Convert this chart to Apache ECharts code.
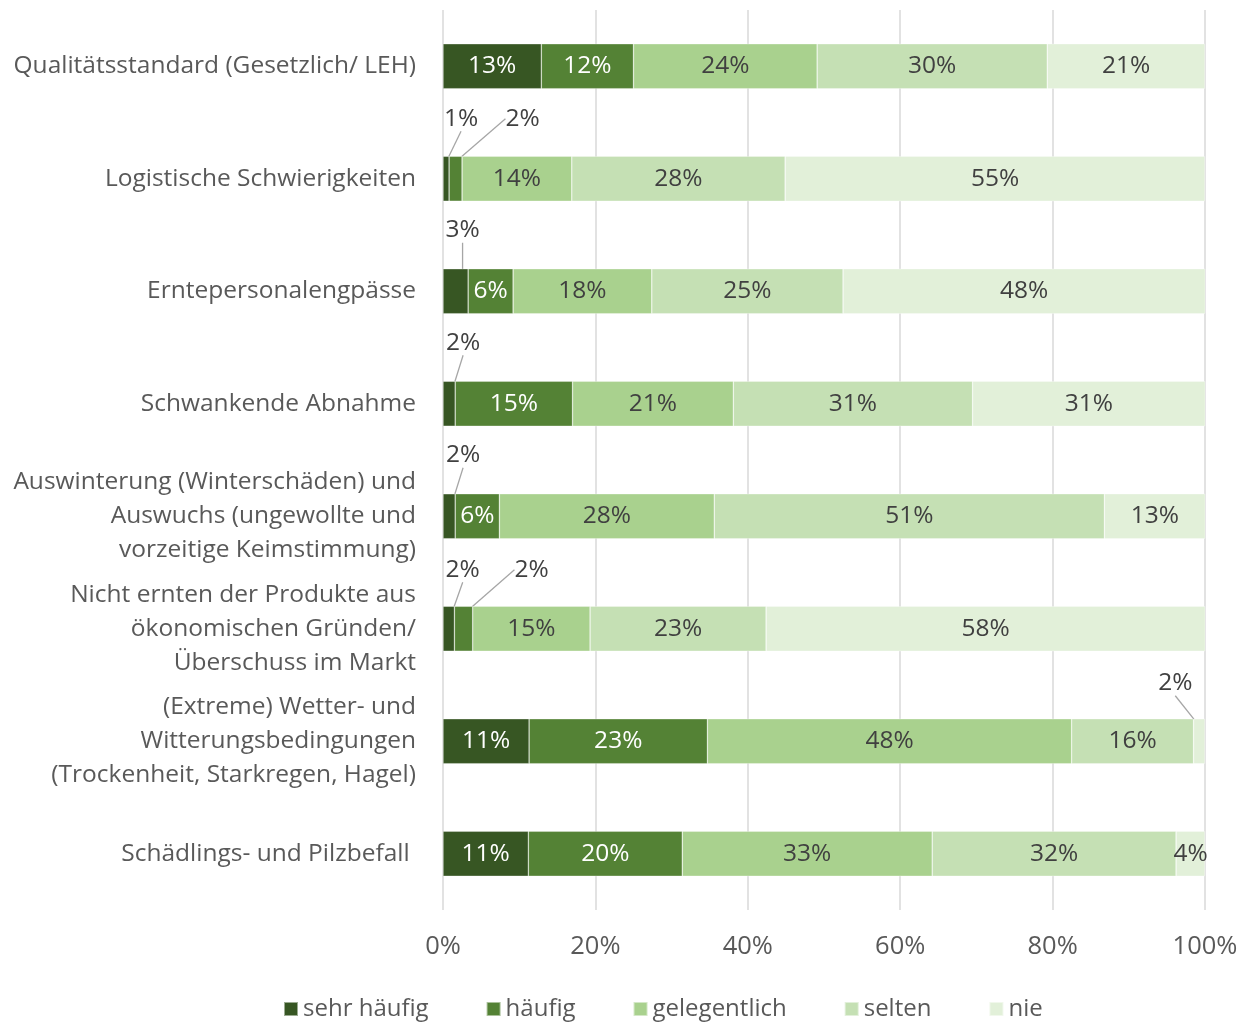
<!DOCTYPE html>
<html>
<head>
<meta charset="utf-8">
<script src="https://cdn.jsdelivr.net/npm/echarts@6/dist/echarts.min.js"></script>
<style>
html,body{margin:0;padding:0;background:#fff;}
#chart{width:1246px;height:1023px;}
</style>
</head>
<body>
<div id="chart"></div>
<script>
// Categories (top to bottom)
const categories = [
  "Qualitätsstandard (Gesetzlich/ LEH)",
  "Logistische Schwierigkeiten",
  "Erntepersonalengpässe",
  "Schwankende Abnahme",
  "Auswinterung (Winterschäden) und\nAuswuchs (ungewollte und\nvorzeitige Keimstimmung)",
  "Nicht ernten der Produkte aus\nökonomischen Gründen/\nÜberschuss im Markt",
  "(Extreme) Wetter- und\nWitterungsbedingungen\n(Trockenheit, Starkregen, Hagel)",
  "Schädlings- und Pilzbefall "
];
const seriesNames = ["sehr häufig", "häufig", "gelegentlich", "selten", "nie"];
// Shares in percent
const sehrHaeufig  = [12.9, 0.8, 3.3, 1.6, 1.6, 1.5, 11.3, 11.2];
const haeufig      = [12.1, 1.7, 5.9, 15.4, 5.8, 2.4, 23.4, 20.2];
const gelegentlich = [24.1, 14.4, 18.2, 21.1, 28.2, 15.4, 47.8, 32.8];
const selten       = [30.2, 28.0, 25.1, 31.4, 51.2, 23.1, 16.0, 32.0];
const nie          = [20.7, 55.1, 47.6, 30.6, 13.3, 57.7, 1.5, 3.8];
const xTicks = [0, 20, 40, 60, 80, 100];

const values = [sehrHaeufig, haeufig, gelegentlich, selten, nie];
const colors = ["#375623", "#548235", "#a9d18e", "#c5e0b4", "#e2f0d9"];
const labelColors = ["#ffffff", "#ffffff", "#404040", "#404040", "#404040"];

// callout labels: [seriesIndex, dataIndex, dx, dy]
const callouts = [
  [0, 1, 15, -60],
  [1, 1, 67, -60],
  [0, 2, 7, -61],
  [0, 3, 14, -61],
  [0, 4, 14, -61],
  [0, 5, 14, -59],
  [1, 5, 68, -59],
  [4, 6, -24, -58]
];
function findCallout(s, d) {
  return callouts.find(c => c[0] === s && c[1] === d);
}

const FONT = "Open Sans";

const series = seriesNames.map((name, si) => ({
  name: name,
  type: "bar",
  stack: "total",
  barWidth: 45,
  itemStyle: { color: colors[si], borderColor: "rgba(255,255,255,0.5)", borderWidth: 0.6 },
  label: {
    show: true,
    position: "inside",
    color: labelColors[si],
    fontFamily: FONT,
    fontSize: 24.5,
    offset: [0, 3],
    formatter: p => Math.round(p.value) + "%"
  },
  labelLine: { show: false },
  labelLayout: function (params) {
    const c = findCallout(params.seriesIndex, params.dataIndex);
    if (!c) return {};
    return { dx: c[2], dy: c[3] };
  },
  data: values[si].map((v, di) => {
    const c = findCallout(si, di);
    if (!c) return v;
    return {
      value: v,
      label: { color: "#404040" },
      labelLine: { show: true, lineStyle: { color: "#a6a6a6", width: 1.3 } }
    };
  })
}));

const chart = echarts.init(document.getElementById("chart"), null, { renderer: "canvas" });
chart.setOption({
  animation: false,
  textStyle: { fontFamily: FONT },
  grid: { left: 443, right: 41, top: 10, bottom: 113, containLabel: false },
  xAxis: {
    type: "value",
    min: 0,
    max: 100,
    interval: 20,
    axisLine: { show: false },
    axisTick: { show: false },
    splitLine: { show: true, lineStyle: { color: "#d9d9d9", width: 1.5 } },
    axisLabel: {
      margin: 24,
      color: "#595959",
      fontFamily: FONT,
      fontSize: 25.5,
      formatter: v => xTicks.indexOf(v) >= 0 ? v + "%" : ""
    }
  },
  yAxis: {
    type: "category",
    inverse: true,
    data: categories,
    axisLine: { show: false },
    axisTick: { show: false },
    axisLabel: {
      margin: 27,
      color: "#595959",
      fontFamily: FONT,
      fontSize: 24.5,
      lineHeight: 34,
      align: "right"
    }
  },
  legend: {
    bottom: -3,
    left: 278,
    itemWidth: 14,
    itemHeight: 14,
    itemGap: 57,
    icon: "rect",
    textStyle: { color: "#595959", fontFamily: FONT, fontSize: 24 },
    data: seriesNames
  },
  series: series
});
</script>
</body>
</html>
